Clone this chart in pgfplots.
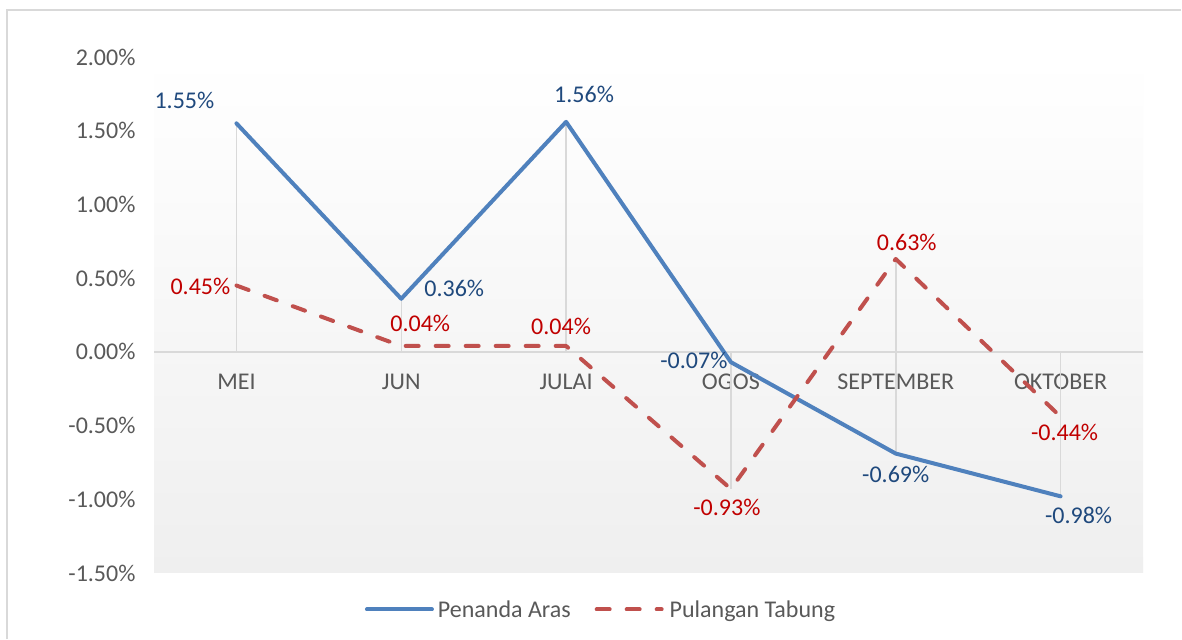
\documentclass[border=0pt]{standalone}
\usepackage{pgfplots}
\pgfplotsset{compat=1.18}
\usepackage{pgfplotstable}
\usepackage{fontspec}
\setmainfont{Carlito}
\definecolor{tickgray}{HTML}{595959}
\definecolor{gridgray}{HTML}{D9D9D9}
\definecolor{blueline}{HTML}{4F81BD}
\definecolor{redline}{HTML}{C0504D}
\definecolor{bluetext}{HTML}{1F497D}
\definecolor{redtext}{HTML}{C00000}
\definecolor{bggray}{HTML}{EFEFEF}

\pgfplotstableread{
x y dx dy
0 1.55 -52 23
1 0.36 53 10
2 1.56 18 27
3 -0.07 -37 2
4 -0.69 0 -21
5 -0.98 18 -19
}\penanda

\pgfplotstableread{
x y dx dy
0 0.45 -36 -1
1 0.04 19 23
2 0.04 -5 20
3 -0.93 -4 -18
4 0.63 11 17
5 -0.44 4 -16
}\pulangan

\begin{document}
\begin{tikzpicture}
\fill[white] (0,0) rectangle (1182bp,639bp);
\draw[gridgray, line width=1.5bp] (7bp,0) -- (7bp,629bp) -- (1181bp,629bp);
\begin{axis}[
  at={(154bp,66bp)}, anchor=south west,
  scale only axis,
  width=989bp, height=516bp,
  xmin=-0.5, xmax=5.5,
  ymin=-1.5, ymax=2.0,
  ytick={-1.5,-1,-0.5,0,0.5,1,1.5,2},
  xtick={0,1,2,3,4,5},
  xticklabels={MEI,JUN,JULAI,OGOS,SEPTEMBER,OKTOBER},
  axis x line*=middle,
  axis y line*=left,
  x axis line style={gridgray, line width=1.5bp},
  y axis line style={draw=none},
  major tick length=0pt,
  axis background/.style={top color=white, bottom color=bggray},
  /pgf/number format/assume math mode=true,
  font=\fontsize{24bp}{28bp}\selectfont,
  tick label style={tickgray, font=\fontsize{24bp}{28bp}\selectfont},
  yticklabel={\pgfmathprintnumber[fixed,fixed zerofill,precision=2]{\tick}\%},
  yticklabel style={anchor=east, xshift=-15bp},
  xticklabel style={anchor=north, yshift=-19bp},
  legend style={at={(0.452,-0.045)}, anchor=north, draw=none, fill=none,
    legend columns=2, font=\fontsize{24bp}{28bp}\selectfont, text=tickgray,
    /tikz/every even column/.append style={column sep=22bp}},
  legend cell align=left,
  clip=false,
]
% drop lines
\addplot[gridgray, line width=1.5bp, ycomb, no marks, forget plot] table[x=x,y=y] {\penanda};
\addplot[gridgray, line width=1.5bp, ycomb, no marks, forget plot] table[x=x,y=y] {\pulangan};
% series
\addplot[blueline, line width=4bp, line join=round, line cap=round, no marks,
  legend image code/.code={\draw[blueline, line width=4bp, line cap=round] (0bp,0bp) -- (65bp,0bp); \path (67bp,0bp);},
  nodes near coords={\pgfmathprintnumber[fixed,fixed zerofill,precision=2]{\pgfplotspointmeta}\%},
  point meta=explicit,
  visualization depends on={\thisrow{dx} \as \dx},
  visualization depends on={\thisrow{dy} \as \dy},
  every node near coord/.append style={anchor=center, text=bluetext, xshift=\dx bp, yshift=\dy bp, font=\fontsize{24bp}{28bp}\selectfont},
] table[x=x,y=y,meta=y] {\penanda};
\addlegendentry{Penanda Aras}
\addplot[redline, line width=4bp, line join=round, line cap=round, dash pattern=on 13bp off 17bp, no marks,
  legend image code/.code={\draw[redline, line width=4bp, line cap=round, dash pattern=on 13bp off 17bp] (0bp,0bp) -- (65bp,0bp); \path (69bp,0bp);},
  nodes near coords={\pgfmathprintnumber[fixed,fixed zerofill,precision=2]{\pgfplotspointmeta}\%},
  point meta=explicit,
  visualization depends on={\thisrow{dx} \as \dx},
  visualization depends on={\thisrow{dy} \as \dy},
  every node near coord/.append style={anchor=center, text=redtext, xshift=\dx bp, yshift=\dy bp, font=\fontsize{24bp}{28bp}\selectfont},
] table[x=x,y=y,meta=y] {\pulangan};
\addlegendentry{Pulangan Tabung}
\end{axis}
\end{tikzpicture}
\end{document}
